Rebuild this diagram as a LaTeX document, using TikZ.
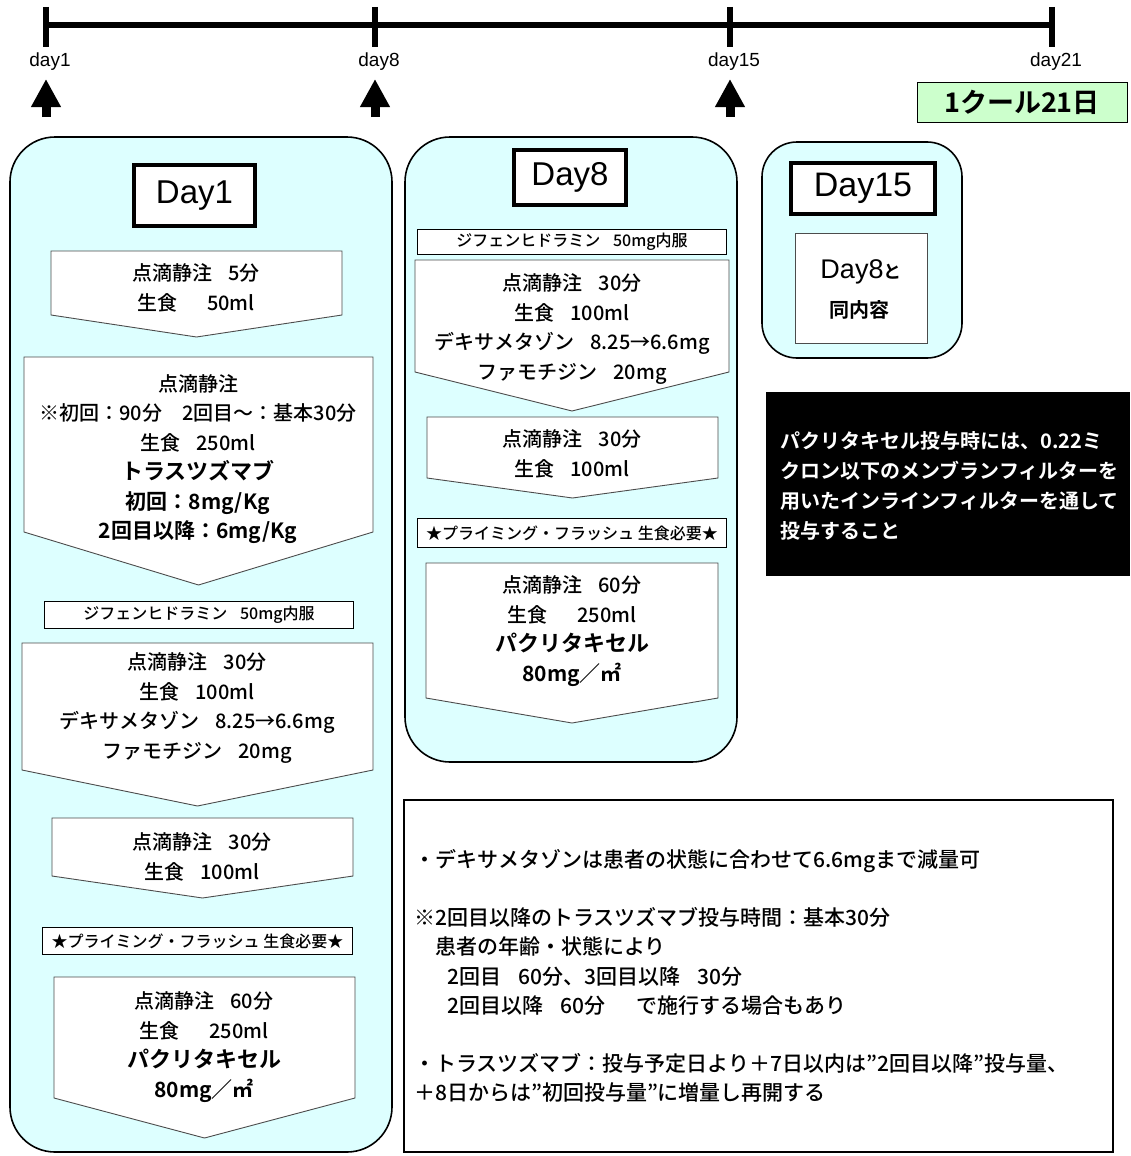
\documentclass[tikz,border=0pt]{standalone}
\usepackage{fontspec}
\setmainfont{Noto Sans CJK JP}[UprightFont=* Medium, BoldFont=* Bold]
\newfontfamily\latinfont{Liberation Sans}
\usetikzlibrary{arrows.meta}

\definecolor{panelcyan}{RGB}{221,255,255}
\definecolor{cyclegreen}{RGB}{204,255,204}

\tikzset{
  tick/.style={line width=5.5pt},
  daymark/.style={font=\latinfont\fontsize{19}{21}\selectfont, inner sep=0pt},
  dayarrow/.style={line width=9pt, -{Triangle[width=28pt,length=28pt]}},
  panel/.style={draw=black, line width=1.6pt, fill=panelcyan, rounded corners=45pt},
  daytitle/.style={draw, line width=4pt, fill=white, inner sep=0pt,
    font=\latinfont\fontsize{33}{36}\selectfont},
  dose/.style={draw=black!70, line width=0.9pt, fill=white},
  dosetext/.style={align=center, inner sep=0pt, font=\fontsize{20}{29.5}\selectfont},
  premed/.style={draw, line width=1.2pt, fill=white, inner sep=0pt,
    font=\fontsize{16}{18}\selectfont},
}

% left, right, top, side bottom, tip
\newcommand{\dosebox}[5]{%
  \filldraw[dose] (#1,#3) -- (#2,#3) -- (#2,#4) -- ({(#1+#2)/2},#5) -- (#1,#4) -- cycle;}
\newcommand{\bigline}[2][22]{{\bfseries\fontsize{#1}{29.5}\selectfont #2}}
\newcommand{\gap}{\hspace{0.8em}}
\newcommand{\wgap}{\hspace{1.5em}}

\begin{document}
\begin{tikzpicture}[x=1pt,y=-1pt]
\useasboundingbox (0,0) rectangle (1130,1156);

% timeline
\draw[tick] (46,25) -- (1052,25);
\foreach \x/\d in {46/1,375/8,730/15,1052/21}{
  \draw[tick] (\x,7) -- (\x,47);
  \node[daymark] (day\d) at (\x+4,62) {day\d};
}
\foreach \x/\d in {46/1,375/8,730/15}{
  \coordinate (foot\d) at (\x,117);
  \coordinate (tip\d) at (\x,79);
  \draw[dayarrow] (foot\d) -- (tip\d);
}
\node[draw, line width=1pt, fill=cyclegreen, minimum width=210pt, minimum height=40pt,
  font=\bfseries\fontsize{27}{30}\selectfont] (cycle) at (1022,102) {1クール21日};

% Day1
\draw[panel] (10,137) rectangle (392,1152);
\node[daytitle, minimum width=121pt, minimum height=61pt] (title1) at (194.5,195.5) {Day1};
\dosebox{51}{342}{251}{315}{337}
\node[dosetext] (salineA) at (196,288) {点滴静注\gap 5分\\生食\wgap 50ml};
\dosebox{24}{373}{357}{532}{585}
\node[dosetext] (trast) at (198,459) {点滴静注\\※初回：90分　2回目～：基本30分\\生食\gap 250ml\\
  \bigline{トラスツズマブ}\\\bigline[21]{初回：8mg/Kg}\\\bigline[21]{2回目以降：6mg/Kg}};
\node[premed, minimum width=309pt, minimum height=27pt] (diphA) at (199,615) {ジフェンヒドラミン\gap 50mg内服};
\dosebox{22}{373}{643}{770}{806}
\node[dosetext] (dexaA) at (197,708) {点滴静注\gap 30分\\生食\gap 100ml\\デキサメタゾン\gap 8.25→6.6mg\\ファモチジン\gap 20mg};
\dosebox{52}{353}{818}{876}{898}
\node[dosetext] (salineB) at (202,857) {点滴静注\gap 30分\\生食\gap 100ml};
\node[premed, minimum width=310pt, minimum height=27pt] (primeA) at (197.5,941) {★プライミング・フラッシュ 生食必要★};
\dosebox{54}{355}{977}{1098}{1138}
\node[dosetext] (paclA) at (204,1047) {点滴静注\gap 60分\\生食\wgap 250ml\\\bigline{パクリタキセル}\\\bigline[21]{80mg／㎡}};

% Day8
\draw[panel] (405,137) rectangle (737,762);
\node[daytitle, minimum width=112pt, minimum height=55pt] (title8) at (570,177.5) {Day8};
\node[premed, minimum width=309pt, minimum height=25pt] (diphB) at (572,242) {ジフェンヒドラミン\gap 50mg内服};
\dosebox{415}{729}{260}{372}{411}
\node[dosetext] (dexaB) at (572,329) {点滴静注\gap 30分\\生食\gap 100ml\\デキサメタゾン\gap 8.25→6.6mg\\ファモチジン\gap 20mg};
\dosebox{427}{718}{417}{478}{498}
\node[dosetext] (salineC) at (572,454) {点滴静注\gap 30分\\生食\gap 100ml};
\node[premed, minimum width=309pt, minimum height=29pt] (primeB) at (572,533) {★プライミング・フラッシュ 生食必要★};
\dosebox{426}{718}{563}{698}{723}
\node[dosetext] (paclB) at (572,631) {点滴静注\gap 60分\\生食\wgap 250ml\\\bigline{パクリタキセル}\\\bigline[21]{80mg／㎡}};

% Day15
\draw[panel, rounded corners=35pt] (762,142) rectangle (962,358);
\node[daytitle, minimum width=144pt, minimum height=51pt, font=\latinfont\fontsize{34}{36}\selectfont] (title15) at (863,188) {Day15};
\node[draw=black!70, line width=0.9pt, fill=white, minimum width=132pt, minimum height=110pt] (sameBox) at (861,288) {};
\node[inner sep=0pt] (sameA) at (861,272) {{\latinfont\fontsize{27}{30}\selectfont Day8}{\bfseries\fontsize{18}{30}\selectfont と}};
\node[inner sep=0pt, font=\bfseries\fontsize{20}{24}\selectfont] (sameB) at (859,310) {同内容};

% filter notice
\fill (766,392) rectangle (1130,576);
\node[anchor=west, align=left, text=white, inner sep=0pt,
  font=\bfseries\fontsize{20}{30}\selectfont] (filter) at (780,486)
  {パクリタキセル投与時には、0.22ミ\\クロン以下のメンブランフィルターを\\用いたインラインフィルターを通して\\投与すること};

% notes
\draw[line width=1.2pt] (404,800) rectangle (1113,1152);
\node[anchor=west, align=left, inner sep=0pt, font=\fontsize{21}{29.5}\selectfont] (notes) at (414,976)
  {・デキサメタゾンは患者の状態に合わせて6.6mgまで減量可\\[28pt]
   ※2回目以降のトラスツズマブ投与時間：基本30分\\
   \hspace{1em}患者の年齢・状態により\\
   \hspace{1.6em}2回目\gap 60分、3回目以降\gap 30分\\
   \hspace{1.6em}2回目以降\gap 60分\wgap で施行する場合もあり\\[28pt]
   ・トラスツズマブ：投与予定日より＋7日以内は”2回目以降”投与量、\\
   ＋8日からは”初回投与量”に増量し再開する};
\end{tikzpicture}
\end{document}
